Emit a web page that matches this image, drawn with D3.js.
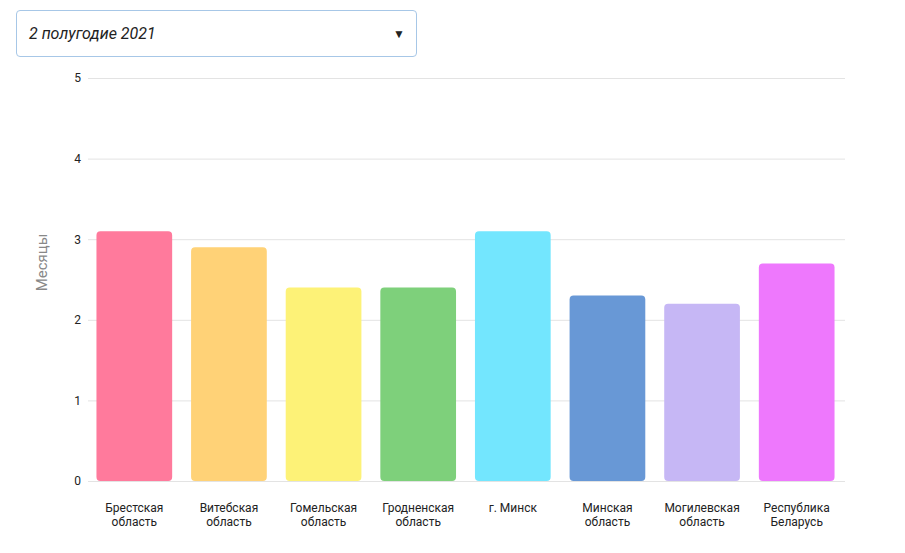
<!DOCTYPE html>
<html>
<head>
<meta charset="utf-8">
<script src="https://cdn.jsdelivr.net/npm/d3@7"></script>
<style>
  html, body { margin: 0; padding: 0; background: #fff; width: 905px; height: 553px; overflow: hidden; font-family: Roboto, "Noto Sans", sans-serif; }
  .sel { position: absolute; left: 16px; top: 10px; width: 399px; height: 45px; border: 1px solid #a7c7e7; border-radius: 4px; box-sizing: content-box; }
  .sel .txt { position: absolute; left: 12px; top: 13px; font-size: 16px; font-style: italic; color: #222; }
  .sel .arr { position: absolute; right: 11px; top: 16px; font-size: 12px; color: #222; }
  svg { position: absolute; left: 0; top: 0; }
</style>
</head>
<body>
<div class="sel"><span class="txt">2 полугодие 2021</span><span class="arr">▼</span></div>
<svg id="chart" width="905" height="553"></svg>
<script>
const categories = [
  ["Брестская", "область"],
  ["Витебская", "область"],
  ["Гомельская", "область"],
  ["Гродненская", "область"],
  ["г. Минск"],
  ["Минская", "область"],
  ["Могилевская", "область"],
  ["Республика", "Беларусь"]
];
const values = [3.1, 2.9, 2.4, 2.4, 3.1, 2.3, 2.2, 2.7];
const colors = ["#ff7a9c", "#ffd277", "#fdf277", "#7ed07b", "#73e6fe", "#6898d6", "#c6b7f5", "#ee78fd"];
const yTicks = [0, 1, 2, 3, 4, 5];
const yTitle = "Месяцы";

(function () {
const svg = d3.select("#chart");
const mLeft = 88, mRight = 845, mTop = 78, mBottom = 481;
const x = d3.scaleBand().domain(d3.range(categories.length)).range([mLeft - 1, mRight - 1]).paddingInner(0.2).paddingOuter(0.1);
const y = d3.scaleLinear().domain([0, 5]).range([mBottom, mTop]);

// grid
const yAxis = d3.axisLeft(y).tickValues(yTicks).tickSize(-(mRight - mLeft)).tickPadding(8).tickFormat(d3.format("d"));
const ga = svg.append("g").attr("transform", `translate(${mLeft},0)`).call(yAxis);
ga.select(".domain").remove();
ga.selectAll(".tick line").attr("stroke", "#e3e3e3").attr("stroke-width", 1);
ga.selectAll(".tick text").attr("font-size", 12).attr("font-family", "Roboto, sans-serif").attr("fill", "#222").attr("dx", 1);

// bars
const r = 4;
svg.append("g").selectAll("path").data(values).join("path")
  .attr("fill", (d, i) => colors[i])
  .attr("d", (d, i) => {
    const x0 = x(i), w = x.bandwidth(), y0 = y(d), h = y(0) - y0;
    return `M${x0},${y0 + r} a${r},${r} 0 0 1 ${r},${-r} h${w - 2 * r} a${r},${r} 0 0 1 ${r},${r} v${h - 2 * r} a${r},${r} 0 0 1 ${-r},${r} h${-(w - 2 * r)} a${r},${r} 0 0 1 ${-r},${-r} z`;
  });

// x labels
const xl = svg.append("g").selectAll("text").data(categories).join("text")
  .attr("x", (d, i) => x(i) + x.bandwidth() / 2)
  .attr("y", 512)
  .attr("text-anchor", "middle")
  .attr("font-size", 12)
  .attr("font-family", "Roboto, sans-serif")
  .attr("fill", "#222");
xl.each(function (d, i) {
  const t = d3.select(this);
  const cx = x(i) + x.bandwidth() / 2;
  d.forEach((line, j) => {
    t.append("tspan").attr("x", cx).attr("dy", j === 0 ? 0 : 14).text(line);
  });
});

// y title
svg.append("text")
  .attr("transform", `translate(47,${(mTop + mBottom) / 2 - 17}) rotate(-90)`)
  .attr("text-anchor", "middle")
  .attr("font-size", 15)
  .attr("font-family", "Roboto, sans-serif")
  .attr("fill", "#888")
  .text(yTitle);
})();
</script>
</body>
</html>
